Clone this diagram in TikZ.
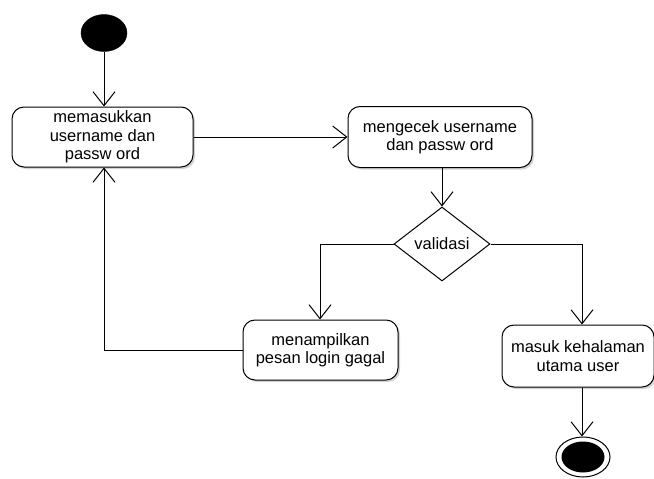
\documentclass[tikz,border=0pt]{standalone}
\usepackage{fontspec}
\setmainfont{Liberation Sans}
\usetikzlibrary{arrows.meta,shapes.geometric,shadows}
\begin{document}
\begin{tikzpicture}[x=1pt,y=-1pt,
  act/.style={draw, rounded corners=12pt, line width=1pt, fill=white, align=center,
    font=\fontsize{16.5}{18.5}\selectfont, inner sep=0pt,
    drop shadow={shadow xshift=2pt, shadow yshift=-2pt, opacity=0.35}},
  dec/.style={draw, diamond, line width=1pt, fill=white, inner sep=0pt,
    font=\fontsize{16.5}{18.5}\selectfont},
  flow/.style={line width=1pt, -{Straight Barb[length=14pt,width=22pt,line width=1pt]}},
  plain/.style={line width=1pt}]
\useasboundingbox (0,0) rectangle (654,479);
\node[draw, ellipse, fill=black, minimum width=46pt, minimum height=37pt, inner sep=0pt] (start) at (104,33) {};
\node[act, minimum width=181pt, minimum height=60pt] (b1) at (102.5,137) {memasukkan\\username dan\\passw ord};
\node[act, minimum width=184pt, minimum height=61pt] (b2) at (440,137) {mengecek username\\dan passw ord};
\node[dec, minimum width=96pt, minimum height=74pt] (d) at (442,244) {validasi};
\node[act, minimum width=155pt, minimum height=60pt] (b3) at (320.5,350) {menampilkan\\pesan login gagal};
\node[act, minimum width=152pt, minimum height=62pt] (b4) at (578,356) {masuk kehalaman\\utama user};
\node[draw, ellipse, line width=1pt, fill=white, minimum width=54pt, minimum height=40pt, inner sep=0pt] (end) at (583,457) {};
\node[ellipse, fill=black, minimum width=43pt, minimum height=31pt, inner sep=0pt] (endin) at (583,457) {};
\coordinate (rb) at (582,244);
\coordinate (lb) at (320,244);
\coordinate (back) at (104,350);
\draw[flow] (start) -- (start |- b1.north);
\draw[flow] (b1.east |- b2.west) -- (b2.west);
\draw[flow] (b2.south -| d.north) -- (d.north);
\draw[plain] (d.west) -- (lb);
\draw[flow] (lb) -- (lb |- b3.north);
\draw[plain] (d.east) -- (rb);
\draw[flow] (rb) -- (rb |- b4.north);
\draw[plain] (b3.west) -- (back);
\draw[flow] (back) -- (back |- b1.south);
\draw[flow] (rb |- b4.south) -- (rb |- end.north);
\end{tikzpicture}
\end{document}
